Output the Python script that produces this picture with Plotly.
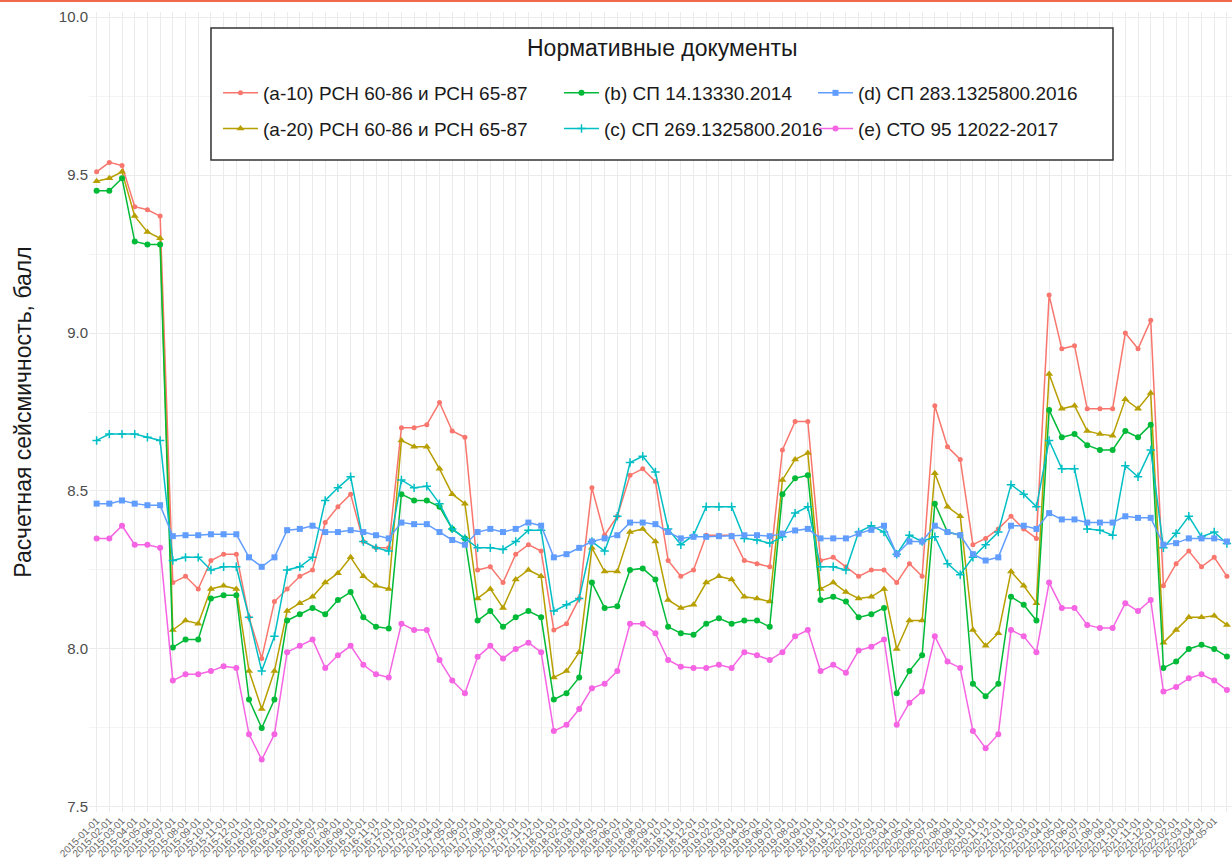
import plotly.graph_objects as go

# ---------------- data ----------------
years = ["2015", "2016", "2017", "2018", "2019", "2020", "2021", "2022"]
months = ["01", "02", "03", "04", "05", "06", "07", "08", "09", "10", "11", "12"]
categories = [f"{y}-{m}-01" for y in years for m in months][:90]

names = [
    "(a-10) РСН 60-86 и РСН 65-87",
    "(a-20) РСН 60-86 и РСН 65-87",
    "(b) СП 14.13330.2014",
    "(c) СП 269.1325800.2016",
    "(d) СП 283.1325800.2016",
    "(e) СТО 95 12022-2017",
]

s_a10 = [9.51, 9.54, 9.53, 9.40, 9.39, 9.37,
         8.21, 8.23, 8.19, 8.28, 8.30, 8.30, 8.10, 7.97, 8.15,
         8.19, 8.23, 8.25, 8.40, 8.45, 8.49, 8.34, 8.32, 8.32, 8.70, 8.70, 8.71, 8.78, 8.69, 8.67,
         8.25, 8.26, 8.21, 8.30, 8.33, 8.31, 8.06, 8.08, 8.16, 8.51, 8.36, 8.42, 8.55, 8.57, 8.53, 8.28,
         8.23, 8.25, 8.36, 8.36, 8.36, 8.28, 8.27, 8.26, 8.63, 8.72, 8.72, 8.28, 8.29, 8.26, 8.23,
         8.25, 8.25, 8.21, 8.27, 8.23, 8.77, 8.64, 8.60, 8.33, 8.35, 8.38, 8.42, 8.38, 8.35, 9.12, 8.95, 8.96,
         8.76, 8.76, 8.76, 9.00, 8.95, 9.04, 8.20, 8.27, 8.31, 8.26, 8.29, 8.23]

s_a20 = [9.48, 9.49, 9.51, 9.37, 9.32, 9.30,
         8.06, 8.09, 8.08, 8.19, 8.20, 8.19, 7.93, 7.81, 7.93,
         8.12, 8.145, 8.165, 8.21, 8.24, 8.29, 8.23, 8.20, 8.19, 8.66, 8.64, 8.64, 8.57, 8.49, 8.46,
         8.16, 8.19, 8.13, 8.22, 8.25, 8.23, 7.91, 7.93, 7.99, 8.32, 8.245, 8.245, 8.37, 8.38, 8.34, 8.155,
         8.13, 8.14, 8.21, 8.23, 8.22, 8.165, 8.16, 8.15, 8.535, 8.60, 8.62, 8.19, 8.21, 8.18, 8.16,
         8.165, 8.19, 8.00, 8.09, 8.09, 8.556, 8.45, 8.42, 8.06, 8.01, 8.05, 8.245, 8.20, 8.145, 8.87, 8.76, 8.77,
         8.69, 8.68, 8.675, 8.79, 8.76, 8.81, 8.02, 8.06, 8.10, 8.10, 8.105, 8.076]

s_b = [9.45, 9.45, 9.49, 9.29, 9.28, 9.28,
       8.005, 8.03, 8.03, 8.16, 8.17, 8.17, 7.84, 7.75, 7.84,
       8.09, 8.11, 8.13, 8.11, 8.155, 8.18, 8.10, 8.07, 8.065, 8.49, 8.47, 8.47, 8.45, 8.38, 8.35,
       8.09, 8.12, 8.07, 8.10, 8.12, 8.10, 7.84, 7.86, 7.91, 8.21, 8.13, 8.135, 8.25, 8.255, 8.22, 8.07,
       8.05, 8.045, 8.08, 8.097, 8.08, 8.09, 8.09, 8.07, 8.49, 8.54, 8.55, 8.155, 8.165, 8.15, 8.10,
       8.11, 8.13, 7.86, 7.93, 7.98, 8.46, 8.37, 8.36, 7.89, 7.85, 7.89, 8.165, 8.14, 8.09, 8.756, 8.67, 8.68,
       8.645, 8.63, 8.63, 8.69, 8.67, 8.71, 7.94, 7.96, 8.00, 8.013, 8.00, 7.976]

s_c = [8.66, 8.68, 8.68, 8.68, 8.67, 8.66,
       8.28, 8.29, 8.29, 8.25, 8.26, 8.26, 8.10, 7.93, 8.04,
       8.25, 8.26, 8.29, 8.47, 8.51, 8.545, 8.34, 8.32, 8.31, 8.535, 8.51, 8.515, 8.46, 8.38, 8.35,
       8.32, 8.32, 8.315, 8.34, 8.376, 8.376, 8.12, 8.14, 8.16, 8.34, 8.31, 8.42, 8.59, 8.61, 8.56, 8.38,
       8.33, 8.36, 8.45, 8.45, 8.45, 8.35, 8.345, 8.335, 8.355, 8.43, 8.45, 8.26, 8.26, 8.25, 8.37,
       8.39, 8.37, 8.30, 8.36, 8.34, 8.355, 8.27, 8.235, 8.29, 8.33, 8.37, 8.52, 8.49, 8.45, 8.66, 8.57, 8.57,
       8.38, 8.376, 8.36, 8.58, 8.545, 8.63, 8.32, 8.366, 8.42, 8.355, 8.37, 8.334]

s_d = [8.46, 8.46, 8.47, 8.46, 8.455, 8.455,
       8.357, 8.36, 8.36, 8.363, 8.363, 8.363, 8.29, 8.26, 8.29,
       8.376, 8.38, 8.39, 8.37, 8.37, 8.376, 8.37, 8.36, 8.35, 8.40, 8.395, 8.395, 8.37, 8.345, 8.33,
       8.37, 8.38, 8.37, 8.38, 8.40, 8.39, 8.29, 8.30, 8.32, 8.34, 8.35, 8.36, 8.40, 8.40, 8.395, 8.37,
       8.35, 8.355, 8.355, 8.357, 8.357, 8.36, 8.36, 8.357, 8.365, 8.375, 8.38, 8.35, 8.35, 8.35, 8.365,
       8.377, 8.39, 8.30, 8.34, 8.34, 8.39, 8.37, 8.36, 8.30, 8.28, 8.29, 8.39, 8.39, 8.38, 8.43, 8.41, 8.41,
       8.40, 8.40, 8.40, 8.42, 8.415, 8.415, 8.33, 8.335, 8.35, 8.35, 8.35, 8.34]

s_e = [8.35, 8.35, 8.39, 8.33, 8.33, 8.32,
       7.90, 7.92, 7.92, 7.93, 7.945, 7.94, 7.73, 7.65, 7.73,
       7.99, 8.01, 8.03, 7.94, 7.98, 8.01, 7.95, 7.92, 7.91, 8.08, 8.06, 8.06, 7.965, 7.90, 7.86,
       7.975, 8.01, 7.97, 8.00, 8.02, 7.99, 7.74, 7.76, 7.81, 7.876, 7.89, 7.93, 8.08, 8.08, 8.05, 7.965,
       7.944, 7.94, 7.94, 7.95, 7.94, 7.99, 7.98, 7.965, 7.99, 8.04, 8.06, 7.93, 7.95, 7.925, 7.995,
       8.007, 8.03, 7.76, 7.83, 7.865, 8.04, 7.96, 7.94, 7.74, 7.686, 7.73, 8.06, 8.04, 7.99, 8.21, 8.13, 8.13,
       8.076, 8.066, 8.066, 8.145, 8.12, 8.155, 7.865, 7.88, 7.907, 7.92, 7.90, 7.87]

series = [s_a10, s_a20, s_b, s_c, s_d, s_e]

colors = ["#F8766D", "#B79F00", "#00BA38", "#00BFC4", "#619CFF", "#F564E3"]
symbols = ["circle", "triangle-up", "circle", "cross-thin", "square", "circle"]
msizes = [5, 7, 6, 6, 6, 6]
legend_ids = ["legend", "legend", "legend2", "legend2", "legend3", "legend3"]

x_idx = list(range(len(categories)))

fig = go.Figure()
for i, (nm, ys) in enumerate(zip(names, series)):
    fig.add_trace(go.Scatter(
        x=x_idx, y=ys, name=nm, mode="lines+markers",
        line=dict(color=colors[i], width=1.5),
        marker=dict(symbol=symbols[i], size=msizes[i], color=colors[i],
                    line=dict(color=colors[i], width=1.5 if symbols[i] == "cross-thin" else 0)),
        legend=legend_ids[i], legendgroup=f"g{i}",
    ))

W, H = 1232, 867
ML, MR, MT, MB = 89, 0, 12, 55
PW, PH = W - ML - MR, H - MT - MB


def px(xp):
    return (xp - ML) / PW


def py(yp):
    return (H - MB - yp) / PH


leg_common = dict(
    orientation="v", xanchor="left", yanchor="top",
    bgcolor="rgba(0,0,0,0)", borderwidth=0,
    font=dict(family="Liberation Sans, Arial, sans-serif", size=19, color="#1a1a1a"),
    tracegroupgap=8, itemwidth=35,
)

fig.update_layout(
    width=W, height=H,
    margin=dict(l=ML, r=MR, t=MT, b=MB),
    paper_bgcolor="white", plot_bgcolor="white",
    font=dict(family="Liberation Sans, Arial, sans-serif", color="#4D4D4D"),
    showlegend=True,
    legend=dict(x=px(218), y=py(74), **leg_common),
    legend2=dict(x=px(559), y=py(74), **leg_common),
    legend3=dict(x=px(813), y=py(74), **leg_common),
    xaxis=dict(
        range=[-0.6, 89.4], tickmode="array", tickvals=x_idx, ticktext=categories,
        tickangle=-45, tickfont=dict(size=10, color="#666666"),
        showgrid=True, gridcolor="#EBEBEB", gridwidth=1.2,
        zeroline=False, showline=False, ticks="", automargin=False,
    ),
    yaxis=dict(
        range=[7.484, 10.016], tickmode="array",
        tickvals=[7.5, 8.0, 8.5, 9.0, 9.5, 10.0],
        ticktext=["7.5", "8.0", "8.5", "9.0", "9.5", "10.0"],
        tickfont=dict(size=15, color="#4D4D4D"),
        showgrid=True, gridcolor="#EBEBEB", gridwidth=1.2,
        minor=dict(tickvals=[7.75, 8.25, 8.75, 9.25, 9.75], showgrid=True,
                   gridcolor="#F4F4F4", gridwidth=1),
        zeroline=False, showline=False, ticks="", automargin=False,
        title=dict(text="Расчетная сейсмичность, балл",
                   font=dict(size=23, color="#1a1a1a"), standoff=20),
    ),
    shapes=[
        dict(type="rect", xref="paper", yref="paper",
             x0=px(211), x1=px(1113), y0=py(160), y1=py(28),
             line=dict(color="#333333", width=1.5), fillcolor="white", layer="above"),
        dict(type="line", xref="paper", yref="paper",
             x0=px(0), x1=px(W), y0=py(1), y1=py(1),
             line=dict(color="#F26A4B", width=2)),
    ],
    annotations=[
        dict(text="Нормативные документы", xref="paper", yref="paper",
             x=px(662), y=py(48), showarrow=False, xanchor="center", yanchor="middle",
             font=dict(size=23, color="#1a1a1a")),
    ],
)

fig.write_html("out.html")
